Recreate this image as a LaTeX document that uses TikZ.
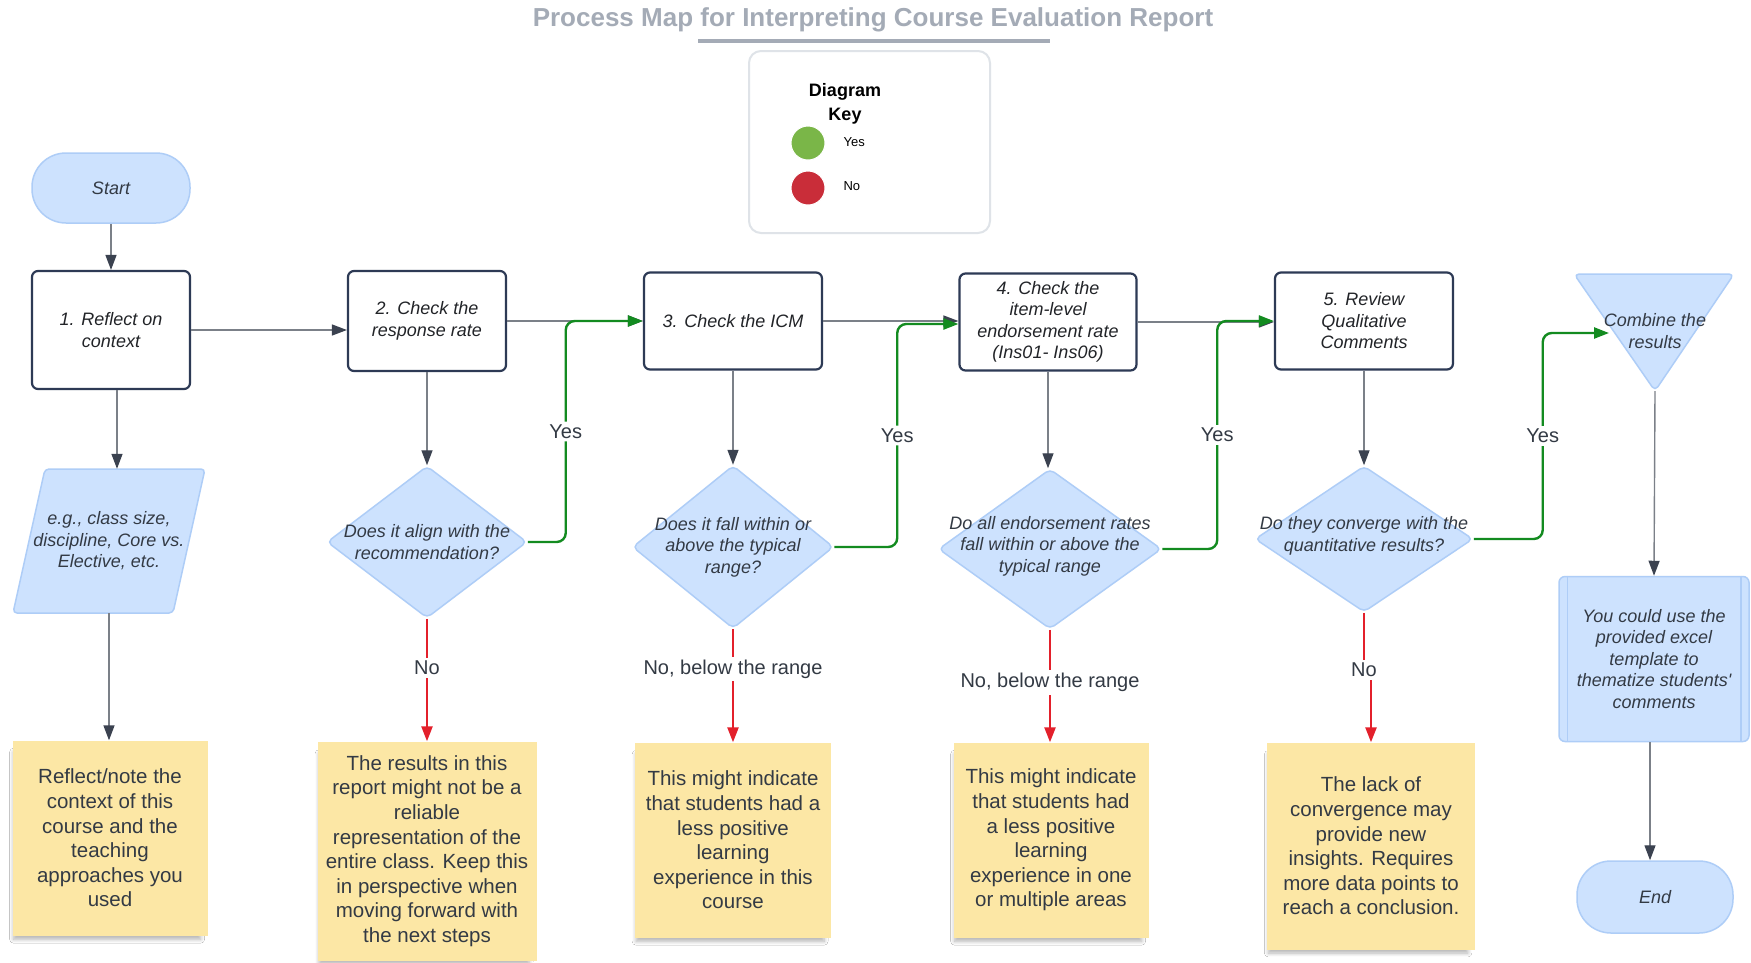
\documentclass[tikz,border=0pt]{standalone}
\usepackage{fontspec}
\setmainfont{Liberation Sans}
\usetikzlibrary{arrows.meta,shapes.geometric,shadows.blur}
\definecolor{navy}{HTML}{2D3A55}
\definecolor{ink}{HTML}{222428}
\definecolor{softink}{HTML}{333A44}
\definecolor{bluefill}{HTML}{CDE2FE}
\definecolor{bluedge}{HTML}{AECDF7}
\definecolor{notefill}{HTML}{FCE7A5}
\definecolor{linegray}{HTML}{7B8088}
\definecolor{tipdark}{HTML}{3B4250}
\definecolor{yesgreen}{HTML}{138B20}
\definecolor{nored}{HTML}{E3202B}
\definecolor{titlegray}{HTML}{A4ABB6}
\definecolor{keyedge}{HTML}{DFE3E8}
\definecolor{keygreen}{HTML}{7AB648}
\definecolor{keyred}{HTML}{C92D39}
\tikzset{
	base/.style={font=\fontsize{18}{21.5}\selectfont\itshape, align=center, text=ink},
	stepbox/.style={base, draw=navy, line width=2.2pt, rounded corners=6pt, fill=white, inner sep=3pt, minimum width=178pt, minimum height=97pt},
	terminal/.style={base, text=softink, draw=bluedge, fill=bluefill, line width=1.5pt, minimum width=156pt, minimum height=72pt, rounded corners=34pt},
	decision/.style={diamond, draw=bluedge, fill=bluefill, line width=1.5pt, rounded corners=5pt, inner sep=0pt},
	dtext/.style={base, text=softink},
	blueshape/.style={draw=bluedge, fill=bluefill, line width=1.5pt, rounded corners=5pt},
	predef/.style={base, text=softink, draw=bluedge, fill=bluefill, line width=1.5pt, rounded corners=6pt, minimum width=190pt, minimum height=165pt},
	note/.style={font=\fontsize{20.5}{24.6}\selectfont, align=center, text=softink, fill=notefill, inner sep=0pt, blur shadow={shadow xshift=-3pt, shadow yshift=-8pt, shadow scale=0.96, shadow blur steps=8, shadow blur radius=4pt, shadow opacity=30}},
	flow/.style={draw=linegray, line width=1.4pt, -{Triangle[length=15pt, width=11pt, color=tipdark]}},
	yesline/.style={draw=yesgreen, line width=2.4pt, rounded corners=9pt, -{Triangle[length=15pt, width=11pt, color=yesgreen]}},
	noline/.style={draw=nored, line width=2.4pt, -{Triangle[length=15pt, width=11pt, color=nored]}},
	lbl/.style={fill=white, font=\fontsize{20}{24}\selectfont, text=softink, inner sep=3pt},
	dot/.style={circle, minimum size=34pt, inner sep=0pt, draw=white, line width=1pt}
}
\begin{document}
\begin{tikzpicture}[x=1pt, y=-1pt, line join=round]
	\useasboundingbox[fill=white] (0,0) rectangle (1751,962);
	\node[font=\fontsize{26}{30}\selectfont\bfseries, text=titlegray] (ttl) at (873,20) {Process Map for Interpreting Course Evaluation Report};
	\draw[titlegray, line width=3.5pt] (698,41) -- (1050,41);
	\node[draw=keyedge, line width=2pt, rounded corners=12pt, minimum width=241pt, minimum height=182pt] (key) at (869.5,142) {};
	\node[font=\fontsize{18}{24}\selectfont\bfseries, align=center] (keyt) at (845,104) {Diagram\\Key};
	\node[dot, fill=keygreen] (kyes) at (808,143) {};
	\node[dot, fill=keyred] (kno) at (808,188) {};
	\node[font=\fontsize{13}{15}\selectfont, anchor=west] at (840,142) {Yes};
	\node[font=\fontsize{13}{15}\selectfont, anchor=west] at (840,186) {No};
	\node[terminal, minimum width=158pt, minimum height=70pt] (start) at (111,188) {Start};
	\node[stepbox, minimum width=158pt, minimum height=118pt] (s1) at (111,330) {1. Reflect on\\context};
	\node[stepbox, minimum width=158pt, minimum height=100pt] (s2) at (427,321) {2. Check the\\response rate};
	\node[stepbox] (s3) at (733,321) {3. Check the ICM};
	\node[stepbox, minimum width=177pt] (s4) at (1048,322) {4. Check the\\item-level\\endorsement rate\\(Ins01- Ins06)};
	\node[stepbox] (s5) at (1364,321) {5. Review\\Qualitative\\Comments};
	\draw[blueshape, rounded corners=4pt] (45,469) -- (205,469) -- (173,613) -- (13,613) -- cycle;
	\node[dtext, minimum height=144pt, inner sep=0pt] (ctx) at (109,541) {e.g., class size,\\discipline, Core vs.\\Elective, etc.};
	\node[decision, minimum width=200pt, minimum height=152pt] (d2) at (427,542) {};
	\node[decision, minimum width=201pt, minimum height=163pt] (d3) at (733,547) {};
	\node[decision, minimum width=223pt, minimum height=160pt] (d4) at (1050,549) {};
	\node[decision, minimum width=218pt, minimum height=146pt] (d5) at (1364,539) {};
	\node[dtext] at (d2) {Does it align with the\\recommendation?};
	\node[dtext] at (d3) {Does it fall within or\\above the typical\\range?};
	\node[dtext] at ([yshift=3pt]d4) {Do all endorsement rates\\fall within or above the\\typical range};
	\node[dtext] at ([yshift=3pt]d5) {Do they converge with the\\quantitative results?};
	\draw[blueshape] (1574,274) -- (1734,274) -- (1655,391) -- cycle;
	\node[dtext] (comb) at (1655,331) {Combine the\\results};
	\coordinate (comb-tip) at (1655,391);
	\coordinate (comb-in) at (1609,333);
	\node[predef] (pbox) at (1654,659) {You could use the\\provided excel\\template to\\thematize students\textquotesingle\\comments};
	\draw[bluedge, line width=1.5pt] ([xshift=9pt]pbox.north west) -- ([xshift=9pt]pbox.south west)
		([xshift=-9pt]pbox.north east) -- ([xshift=-9pt]pbox.south east);
	\node[terminal] (end) at (1655,897) {End};
	\node[note, minimum width=195pt, minimum height=195pt] (n1) at (110,838) {Reflect/note the\\context of this\\course and the\\teaching\\approaches you\\used};
	\node[note, minimum width=219pt, minimum height=219pt] (n2) at (427,851) {The results in this\\report might not be a\\reliable\\representation of the\\entire class. Keep this\\in perspective when\\moving forward with\\the next steps};
	\node[note, minimum width=196pt, minimum height=195pt] (n3) at (733,840) {This might indicate\\that students had a\\less positive\\learning\\experience in this\\course};
	\node[note, minimum width=195pt, minimum height=195pt] (n4) at (1051,840) {This might indicate\\that students had\\a less positive\\learning\\experience in one\\or multiple areas};
	\node[note, minimum width=208pt, minimum height=207pt] (n5) at (1371,846) {The lack of\\convergence may\\provide new\\insights. Requires\\more data points to\\reach a conclusion.};
	\draw[flow] (start) -- (s1);
	\draw[flow] (s1.east) -- (s1.east -| s2.west);
	\draw[flow] ([xshift=6pt]s1.south) -- ([xshift=6pt]s1.south |- ctx.north);
	\draw[flow] (ctx.south) -- (ctx.south |- n1.north);
	\draw[flow] (s2) -- (d2);
	\draw[flow] (s3) -- (d3);
	\draw[flow] (s4.south) -- (s4.south |- d4.north);
	\draw[flow] (s5) -- (d5);
	\draw[flow] (s2.east) -- (s3.west);
	\draw[flow] (s3.east) -- (s3.east -| s4.west);
	\draw[flow] (s4.east) -- (s4.east -| s5.west);
	\draw[flow] (comb-tip) -- (pbox.north);
	\draw[flow] ([xshift=-4pt]pbox.south) -- ([xshift=-4pt]pbox.south |- end.north);
	\draw[yesline] (d2.east) -- ++(38,0) |- node[lbl, pos=0.25]{Yes} (s3.west);
	\draw[yesline] (d3.east) -- ++(63,0) |- node[lbl, pos=0.25]{Yes} ([yshift=-2pt]s4.west);
	\draw[yesline] (d4.east) -- ++(55,0) |- node[lbl, pos=0.25]{Yes} (s5.west);
	\draw[yesline] (d5.east) -- ++(69,0) |- node[lbl, pos=0.25]{Yes} (comb-in);
	\draw[noline] (d2.south) -- node[lbl, pos=0.4]{No} (n2.north);
	\draw[noline] (d3.south) -- node[lbl, pos=0.35]{No, below the range} (n3.north);
	\draw[noline] (d4.south) -- node[lbl, pos=0.47]{No, below the range} (d4.south |- n4.north);
	\draw[noline] (d5.south) -- ++(0,57) node[lbl]{No} -| (n5.north);
\end{tikzpicture}
\end{document}
